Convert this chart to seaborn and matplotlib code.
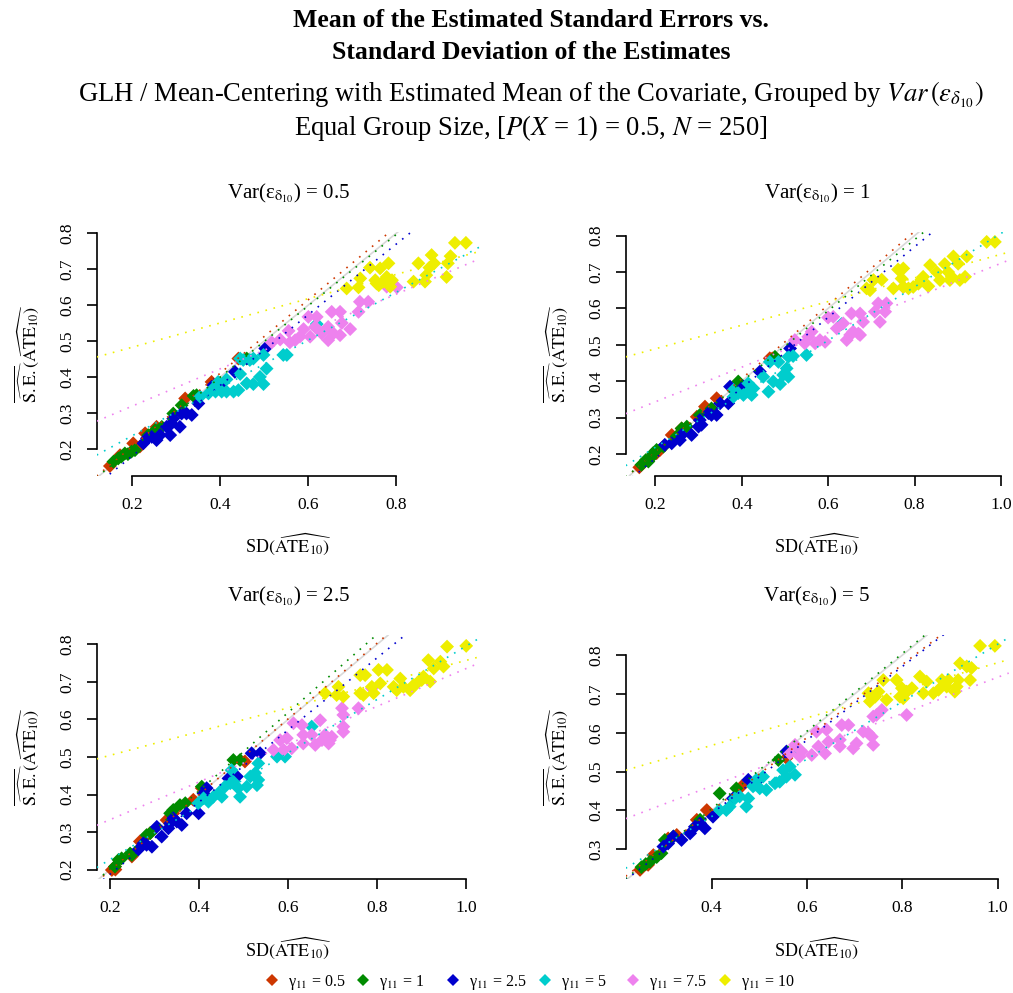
import numpy as np
import pandas as pd
import seaborn as sns
import matplotlib
matplotlib.use("Agg")
import matplotlib.pyplot as plt
from matplotlib.lines import Line2D

# ---------------- data: (SD of estimates, mean estimated SE) ----------------
gammas = [0.5, 1, 2.5, 5, 7.5, 10]
gamma_labels = ["0.5", "1", "2.5", "5", "7.5", "10"]
var_levels = ["0.5", "1", "2.5", "5"]
colors = ["#CD3700", "#008B00", "#0000CD", "#00CDCD", "#EE82EE", "#EEEE00"]

# Var = 0.5
v05_g05 = [(0.149,0.152),(0.172,0.182),(0.202,0.215),(0.229,0.243),(0.255,0.261),(0.320,0.340),
           (0.380,0.386),(0.441,0.451),(0.217,0.206)]
v05_g1 = [(0.157,0.164),(0.168,0.173),(0.183,0.187),(0.198,0.192),(0.206,0.196),(0.236,0.238),
          (0.252,0.252),(0.267,0.261),(0.293,0.298),(0.312,0.321),(0.339,0.347),(0.346,0.349),
          (0.460,0.451),(0.190,0.185),(0.175,0.178)]
v05_g25 = [(0.225,0.215),(0.233,0.229),(0.244,0.233),(0.263,0.238),(0.278,0.261),(0.286,0.238),
           (0.289,0.270),(0.308,0.261),(0.312,0.298),(0.323,0.298),(0.335,0.294),(0.350,0.326),
           (0.384,0.377),(0.399,0.377),(0.433,0.414),(0.502,0.479),(0.293,0.284),(0.255,0.224)]
v05_g5 = [(0.354,0.345),(0.373,0.354),(0.384,0.368),(0.395,0.386),(0.403,0.359),(0.414,0.393),
          (0.430,0.359),(0.441,0.363),(0.445,0.408),(0.452,0.447),(0.467,0.447),(0.475,0.451),
          (0.445,0.451),(0.460,0.382),(0.475,0.380),(0.490,0.400),(0.498,0.380),(0.498,0.461),
          (0.505,0.423),(0.543,0.461),(0.551,0.461),(0.619,0.547),(0.414,0.359),(0.389,0.359)]
v05_g75 = [(0.517,0.496),(0.536,0.504),(0.555,0.528),(0.558,0.496),(0.570,0.502),(0.581,0.512),
           (0.589,0.533),(0.600,0.567),(0.604,0.512),(0.615,0.539),(0.619,0.567),(0.645,0.539),
           (0.645,0.502),(0.653,0.581),(0.657,0.521),(0.672,0.581),(0.672,0.516),(0.676,0.550),
           (0.695,0.533),(0.714,0.581),(0.717,0.609),(0.736,0.609),(0.778,0.651),(0.801,0.649),
           (0.630,0.521)]
v05_g10 = [(0.687,0.646),(0.714,0.649),(0.718,0.674),(0.740,0.704),(0.763,0.702),(0.752,0.669),
           (0.778,0.678),(0.782,0.716),(0.755,0.660),(0.770,0.665),(0.790,0.669),(0.786,0.651),
           (0.839,0.665),(0.850,0.716),(0.865,0.665),(0.868,0.683),(0.875,0.704),(0.880,0.739),
           (0.886,0.716),(0.914,0.678),(0.917,0.716),(0.923,0.736),(0.933,0.773),(0.958,0.773),
           (0.760,0.655)]

# Var = 1
v1_g05 = [(0.163,0.163),(0.188,0.188),(0.211,0.211),(0.238,0.252),(0.261,0.270),(0.296,0.302),
          (0.315,0.330),(0.342,0.353),(0.465,0.463),(0.203,0.202)]
v1_g1 = [(0.168,0.170),(0.184,0.179),(0.195,0.202),(0.203,0.211),(0.219,0.220),(0.249,0.248),
         (0.261,0.270),(0.273,0.275),(0.303,0.307),(0.330,0.325),(0.392,0.399),(0.477,0.467),
         (0.190,0.190),(0.178,0.183)]
v1_g25 = [(0.222,0.225),(0.238,0.229),(0.257,0.238),(0.261,0.252),(0.284,0.252),(0.300,0.275),
          (0.303,0.293),(0.307,0.280),(0.323,0.312),(0.330,0.307),(0.342,0.307),(0.350,0.339),
          (0.369,0.339),(0.373,0.385),(0.404,0.385),(0.442,0.426),(0.512,0.490)]
v1_g5 = [(0.381,0.357),(0.392,0.367),(0.404,0.362),(0.415,0.394),(0.423,0.362),(0.427,0.380),
         (0.450,0.412),(0.462,0.371),(0.465,0.453),(0.473,0.399),(0.485,0.453),(0.489,0.392),
         (0.496,0.417),(0.504,0.435),(0.508,0.467),(0.508,0.412),(0.519,0.469),(0.550,0.472),
         (0.631,0.557),(0.381,0.376),(0.415,0.371)]
v1_g75 = [(0.523,0.513),(0.554,0.522),(0.562,0.536),(0.546,0.504),(0.570,0.504),(0.581,0.513),
          (0.593,0.508),(0.600,0.575),(0.612,0.577),(0.620,0.545),(0.635,0.559),(0.643,0.513),
          (0.651,0.527),(0.658,0.536),(0.654,0.586),(0.670,0.531),(0.674,0.586),(0.681,0.563),
          (0.674,0.527),(0.708,0.591),(0.716,0.614),(0.720,0.563),(0.732,0.591),(0.735,0.614),
          (0.774,0.659)]
v1_g10 = [(0.689,0.655),(0.705,0.678),(0.724,0.679),(0.697,0.650),(0.751,0.655),(0.762,0.707),
          (0.774,0.710),(0.770,0.682),(0.774,0.659),(0.797,0.659),(0.809,0.668),(0.816,0.679),
          (0.820,0.687),(0.832,0.661),(0.836,0.719),(0.851,0.700),(0.859,0.678),(0.870,0.722),
          (0.878,0.700),(0.886,0.687),(0.890,0.743),(0.901,0.723),(0.905,0.678),(0.917,0.687),
          (0.921,0.743),(0.967,0.783),(0.986,0.783),(0.786,0.655),(0.882,0.678)]

# Var = 2.5
v25_g05 = [(0.204,0.199),(0.211,0.208),(0.249,0.235),(0.267,0.275),(0.290,0.297),(0.327,0.332),
           (0.342,0.350),(0.387,0.386),(0.406,0.417),(0.503,0.488),(0.212,0.200)]
v25_g1 = [(0.211,0.208),(0.219,0.226),(0.226,0.230),(0.245,0.243),(0.249,0.239),(0.282,0.292),
          (0.290,0.297),(0.335,0.350),(0.342,0.359),(0.357,0.372),(0.369,0.377),(0.406,0.421),
          (0.477,0.492),(0.492,0.492)]
v25_g25 = [(0.264,0.254),(0.275,0.270),(0.282,0.266),(0.294,0.261),(0.305,0.314),(0.316,0.288),
           (0.331,0.310),(0.335,0.323),(0.342,0.337),(0.350,0.328),(0.361,0.319),(0.372,0.350),
           (0.399,0.350),(0.410,0.403),(0.417,0.417),(0.466,0.443),(0.485,0.448),(0.518,0.510),
           (0.537,0.510)]
v25_g5 = [(0.398,0.377),(0.410,0.390),(0.421,0.381),(0.432,0.394),(0.443,0.403),(0.451,0.394),
          (0.458,0.421),(0.470,0.430),(0.473,0.465),(0.477,0.434),(0.488,0.417),(0.492,0.394),
          (0.507,0.421),(0.515,0.448),(0.526,0.457),(0.530,0.425),(0.533,0.439),(0.533,0.483),
          (0.575,0.501),(0.593,0.501),(0.653,0.581)]
v25_g75 = [(0.567,0.519),(0.582,0.545),(0.590,0.519),(0.597,0.550),(0.608,0.523),(0.612,0.590),
           (0.631,0.585),(0.634,0.559),(0.634,0.536),(0.653,0.559),(0.661,0.532),(0.672,0.598),
           (0.676,0.545),(0.683,0.559),(0.691,0.536),(0.694,0.545),(0.698,0.554),(0.721,0.630),
           (0.724,0.612),(0.724,0.581),(0.724,0.567),(0.758,0.630),(0.788,0.683)]
v25_g10 = [(0.683,0.670),(0.713,0.687),(0.709,0.665),(0.724,0.661),(0.762,0.718),(0.773,0.718),
           (0.762,0.670),(0.769,0.665),(0.792,0.670),(0.788,0.687),(0.803,0.732),(0.822,0.732),
           (0.807,0.696),(0.844,0.678),(0.852,0.709),(0.859,0.687),(0.874,0.678),(0.882,0.692),
           (0.889,0.696),(0.900,0.705),(0.904,0.714),(0.919,0.701),(0.915,0.758),(0.927,0.736),
           (0.942,0.754),(0.949,0.741),(0.957,0.794),(1.000,0.796),(0.837,0.687)]

# Var = 5
v5_g05 = [(0.250,0.247),(0.267,0.260),(0.278,0.285),(0.309,0.328),(0.327,0.337),(0.369,0.376),
          (0.390,0.401),(0.463,0.462),(0.557,0.535)]
v5_g1 = [(0.253,0.254),(0.271,0.268),(0.295,0.290),(0.302,0.324),(0.320,0.333),(0.376,0.376),
         (0.417,0.444),(0.452,0.457),(0.540,0.530),(0.262,0.262),(0.285,0.280)]
v5_g25 = [(0.299,0.307),(0.309,0.315),(0.320,0.333),(0.337,0.324),(0.355,0.341),(0.365,0.358),
          (0.376,0.367),(0.386,0.354),(0.403,0.384),(0.445,0.431),(0.477,0.479),(0.494,0.474),
          (0.557,0.552)]
v5_g5 = [(0.417,0.401),(0.431,0.401),(0.438,0.410),(0.449,0.431),(0.459,0.436),(0.473,0.410),
         (0.477,0.431),(0.487,0.462),(0.494,0.479),(0.501,0.457),(0.508,0.487),(0.515,0.453),
         (0.533,0.470),(0.543,0.474),(0.550,0.504),(0.557,0.487),(0.564,0.513),(0.575,0.492),
         (0.585,0.552)]
v5_g75 = [(0.564,0.547),(0.575,0.569),(0.585,0.539),(0.589,0.552),(0.610,0.543),(0.620,0.603),
          (0.624,0.565),(0.638,0.547),(0.641,0.608),(0.645,0.577),(0.669,0.565),(0.669,0.582),
          (0.673,0.620),(0.687,0.620),(0.697,0.560),(0.704,0.573),(0.718,0.603),(0.729,0.599),
          (0.736,0.590),(0.739,0.642),(0.746,0.646),(0.757,0.659),(0.739,0.569),(0.809,0.646),
          (0.809,0.706)]
v5_g10 = [(0.729,0.702),(0.743,0.693),(0.732,0.681),(0.750,0.706),(0.760,0.736),(0.767,0.685),
          (0.788,0.736),(0.799,0.715),(0.802,0.689),(0.809,0.706),(0.820,0.715),(0.837,0.745),
          (0.844,0.702),(0.851,0.732),(0.865,0.702),(0.876,0.711),(0.883,0.736),(0.893,0.719),
          (0.897,0.736),(0.910,0.706),(0.914,0.719),(0.917,0.736),(0.921,0.779),(0.935,0.771),
          (0.942,0.736),(0.945,0.767),(0.963,0.824),(0.994,0.824),(0.795,0.693)]

panel_data = [
    [v05_g05, v05_g1, v05_g25, v05_g5, v05_g75, v05_g10],
    [v1_g05, v1_g1, v1_g25, v1_g5, v1_g75, v1_g10],
    [v25_g05, v25_g1, v25_g25, v25_g5, v25_g75, v25_g10],
    [v5_g05, v5_g1, v5_g25, v5_g5, v5_g75, v5_g10],
]

rows = []
for vi, groups in enumerate(panel_data):
    for gi, pts in enumerate(groups):
        for sd, se in pts:
            rows.append((var_levels[vi], gamma_labels[gi], sd, se))
df = pd.DataFrame(rows, columns=["var", "gamma", "sd", "se"])

# ---------------- styling ----------------
sns.set_theme(style="ticks")
plt.rcParams['font.family'] = ['Liberation Serif', 'DejaVu Serif']
plt.rcParams['mathtext.fontset'] = 'stix'
plt.rcParams['text.color'] = 'black'
plt.rcParams['axes.labelcolor'] = 'black'

W, H = 1013, 993
fig = plt.figure(figsize=(W / 100, H / 100), dpi=100)

# axes rectangles in pixels: left, top, right, bottom
rects = [(96.7, 231.7, 480.0, 475.7), (625.7, 231.7, 1008.7, 475.7),
         (96.7, 635.0, 480.0, 879.0), (625.7, 635.0, 1008.7, 879.0)]
xlims = [(0.119, 0.99), (0.1315, 1.018), (0.170, 1.031), (0.22, 1.023)]
ylims = [(0.125, 0.804), (0.14, 0.811), (0.175, 0.825), (0.2235, 0.852)]
xticks = [[0.2, 0.4, 0.6, 0.8], [0.2, 0.4, 0.6, 0.8, 1.0],
          [0.2, 0.4, 0.6, 0.8, 1.0], [0.4, 0.6, 0.8, 1.0]]
yticks = [[0.2, 0.3, 0.4, 0.5, 0.6, 0.7, 0.8], [0.2, 0.3, 0.4, 0.5, 0.6, 0.7, 0.8],
          [0.2, 0.3, 0.4, 0.5, 0.6, 0.7, 0.8], [0.3, 0.4, 0.5, 0.6, 0.7, 0.8]]

palette = dict(zip(gamma_labels, colors))

for i, (l, t, r, b) in enumerate(rects):
    ax = fig.add_axes([l / W, 1 - b / H, (r - l) / W, (b - t) / H])
    ax.set_xlim(*xlims[i])
    ax.set_ylim(*ylims[i])
    sub = df[df["var"] == var_levels[i]]

    # 45-degree reference line
    ax.axline((0, 0), slope=1, color="#D9D9D9", lw=1.2, zorder=1)

    sns.scatterplot(data=sub, x="sd", y="se", hue="gamma", hue_order=gamma_labels,
                    palette=palette, marker="D", s=50, linewidth=0, legend=False,
                    ax=ax, zorder=2)

    for g, c in zip(gamma_labels, colors):
        gsub = sub[sub["gamma"] == g]
        sns.regplot(data=gsub, x="sd", y="se", scatter=False, ci=None, truncate=False,
                    ax=ax, line_kws=dict(color=c, lw=1.2, ls=(0, (1, 4)), zorder=3))

    ax.set_xlim(*xlims[i])
    ax.set_ylim(*ylims[i])
    ax.set_xticks(xticks[i])
    ax.set_yticks(yticks[i])
    ax.set_xticklabels([f"{v:.1f}" for v in xticks[i]])
    ax.set_yticklabels([f"{v:.1f}" for v in yticks[i]])
    for s in ["top", "right"]:
        ax.spines[s].set_visible(False)
    for s in ["left", "bottom"]:
        ax.spines[s].set_color("black")
        ax.spines[s].set_linewidth(1.2)
    ax.spines["bottom"].set_bounds(xticks[i][0], xticks[i][-1])
    ax.spines["left"].set_bounds(yticks[i][0], yticks[i][-1])
    ax.tick_params(axis="both", direction="out", length=7, width=1.2, colors="black",
                   labelcolor="black", labelsize=12.5, pad=8)
    ax.tick_params(axis="y", labelrotation=90)
    for lab in ax.get_yticklabels():
        lab.set_va("center")
    ax.set_xlabel("")
    ax.set_ylabel("")

    ah = b - t
    aw = r - l
    ax.text(0.5, 1 + 33.5 / ah, r"Var(ε$_{\mathrm{\delta}_{10}}$) = " + var_levels[i],
            transform=ax.transAxes, ha="center", va="baseline", fontsize=15, color="black")
    ax.text(0.5, -69 / ah, r"SD$(\widehat{\mathrm{ATE}_{10}})$",
            transform=ax.transAxes, ha="center", va="center", fontsize=13, color="black")
    ax.text(-70 / aw, 0.5, r"$\overline{\widehat{\mathrm{S.E.}}}(\widehat{\mathrm{ATE}_{10}})$",
            transform=ax.transAxes, ha="center", va="center", rotation=90, fontsize=13,
            color="black")

# titles (centred at x ~ 530 px as in the reference)
cx = 531 / W
fig.text(cx, 1 - 26.7 / H, "Mean of the Estimated Standard Errors vs.", ha="center",
         va="baseline", fontsize=18.5, fontweight="bold", color="black")
fig.text(cx, 1 - 59.3 / H, "Standard Deviation of the Estimates", ha="center",
         va="baseline", fontsize=18.5, fontweight="bold", color="black")
fig.text(cx, 1 - 101.7 / H,
         r"GLH / Mean-Centering with Estimated Mean of the Covariate, Grouped by $\mathit{Var}\,(\varepsilon_{\delta_{10}})$",
         ha="center", va="baseline", fontsize=19.2, color="black")
fig.text(cx, 1 - 135 / H, r"Equal Group Size, [$P$($X$ = 1) = 0.5, $N$ = 250]",
         ha="center", va="baseline", fontsize=19.2, color="black")

# legend: six equally spaced entries
marker_x = [271.7, 362.7, 453.0, 545.0, 633.0, 725.0]
leg_fs = 11.5
for mx, c, g in zip(marker_x, colors, gamma_labels):
    h = Line2D([], [], marker="D", color=c, ls="none", markersize=6.5, markeredgewidth=0)
    half_handle = 0.5 * 1.0 * leg_fs * 100 / 72
    leg = fig.legend([h], [f"γ$_{{11}}$ = {g}"], loc="center left",
                     bbox_to_anchor=((mx - half_handle) / W, 1 - 982 / H),
                     frameon=False, fontsize=leg_fs, handletextpad=0.5, handlelength=1.0,
                     borderpad=0, borderaxespad=0)
    for txt in leg.get_texts():
        txt.set_color("black")

fig.savefig("out.png", dpi=100)
